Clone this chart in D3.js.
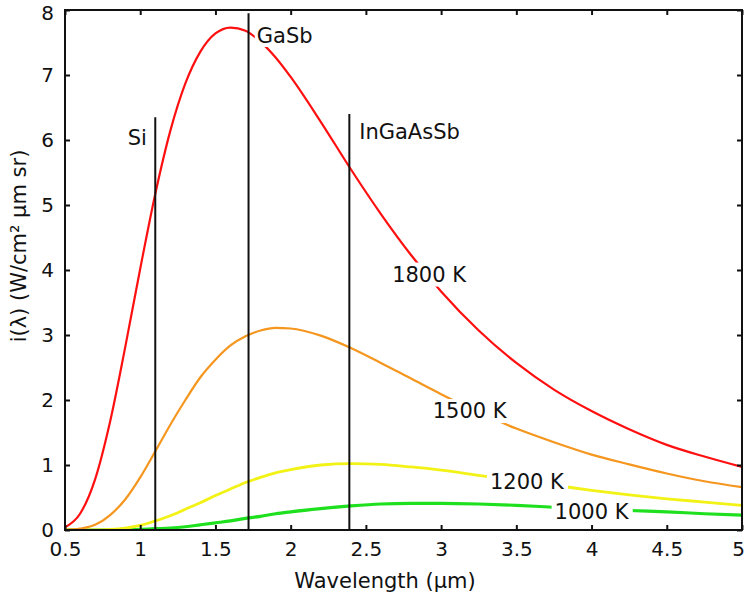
<!DOCTYPE html>
<html>
<head>
<meta charset="utf-8">
<script src="https://cdn.jsdelivr.net/npm/d3@7"></script>
<style>
  html, body { margin: 0; padding: 0; background: #fff; }
  svg { display: block; }
  text { font-family: "DejaVu Sans", Verdana, sans-serif; fill: #111; }
</style>
</head>
<body>
<svg id="chart" width="746" height="600"></svg>
<script>
// Spectral radiance of a blackbody at four temperatures, in W/(cm² µm sr)
const wavelengths = [0.5, 0.6, 0.7, 0.8, 0.9, 1.0, 1.1, 1.2, 1.3, 1.4, 1.5, 1.6, 1.7, 1.8, 1.9,
                     2.0, 2.2, 2.4, 2.6, 2.8, 3.0, 3.25, 3.5, 3.75, 4.0, 4.25, 4.5, 4.75, 5.0];

const radiance1800 = [0.04, 0.25, 0.78, 1.67, 2.81, 4.02, 5.17, 6.14, 6.87, 7.36, 7.64, 7.73, 7.68, 7.51, 7.27,
                      6.97, 6.28, 5.55, 4.86, 4.23, 3.67, 3.07, 2.57, 2.16, 1.83, 1.55, 1.31, 1.13, 0.97];
const radiance1500 = [0.00, 0.02, 0.08, 0.23, 0.47, 0.81, 1.21, 1.62, 2.00, 2.35, 2.62, 2.84, 2.98, 3.07, 3.11,
                      3.10, 2.99, 2.80, 2.57, 2.33, 2.09, 1.81, 1.56, 1.35, 1.16, 1.01, 0.87, 0.75, 0.66];
const radiance1200 = [0.00, 0.00, 0.00, 0.01, 0.03, 0.07, 0.14, 0.22, 0.32, 0.42, 0.53, 0.63, 0.73, 0.81, 0.88,
                      0.93, 1.00, 1.02, 1.01, 0.97, 0.92, 0.84, 0.76, 0.69, 0.61, 0.54, 0.48, 0.43, 0.38];
const radiance1000 = [0.00, 0.00, 0.00, 0.00, 0.00, 0.01, 0.02, 0.03, 0.05, 0.08, 0.11, 0.14, 0.18, 0.21, 0.25,
                      0.28, 0.33, 0.37, 0.40, 0.41, 0.41, 0.40, 0.38, 0.35, 0.33, 0.30, 0.28, 0.25, 0.23];

const seriesNames = ["1800 K", "1500 K", "1200 K", "1000 K"];

// Band-gap cut-off wavelengths (µm) of the photovoltaic cell materials
const materials = ["Si", "GaSb", "InGaAsSb"];
const cutoffs = [1.1, 1.72, 2.39];
const cutoffHeights = [6.35, 7.95, 6.4];

const xTicks = [0.5, 1, 1.5, 2, 2.5, 3, 3.5, 4, 4.5, 5];
const yTicks = [0, 1, 2, 3, 4, 5, 6, 7, 8];

// ---- layout & styles ----
const svg = d3.select("#chart");
const plot = { left: 65, right: 742, top: 10, bottom: 530 };
const x = d3.scaleLinear().domain([0.5, 5]).range([plot.left, plot.right]);
const y = d3.scaleLinear().domain([0, 8]).range([plot.bottom, plot.top]);

const seriesStyle = [
  { color: "#ff1010", width: 2.2 },
  { color: "#f5961e", width: 2.2 },
  { color: "#f2f216", width: 2.8 },
  { color: "#1ee01e", width: 3.2 }
];
// label anchors (data coords) for curves and cut-off markers
const seriesLabelAt = [[2.92, 3.93], [3.19, 1.83], [3.57, 0.74], [4.0, 0.28]];
const materialLabelAt = [[0.98, 6.03], [1.96, 7.6], [2.79, 6.13]];
const fontSize = 21;
const tickFontSize = 20;

const series = [radiance1800, radiance1500, radiance1200, radiance1000].map((vals, i) => ({
  name: seriesNames[i],
  points: wavelengths.map((w, j) => [w, vals[j]])
}));

const line = d3.line()
  .x(d => x(d[0]))
  .y(d => y(d[1]))
  .curve(d3.curveMonotoneX);

svg.append("defs").append("clipPath").attr("id", "plotclip")
  .append("rect")
  .attr("x", plot.left).attr("y", plot.top)
  .attr("width", plot.right - plot.left).attr("height", plot.bottom - plot.top);

const gPlot = svg.append("g").attr("clip-path", "url(#plotclip)");

// curves (coolest drawn first)
gPlot.selectAll("path.curve")
  .data(series.slice().reverse())
  .join("path")
  .attr("class", "curve")
  .attr("fill", "none")
  .attr("stroke", d => seriesStyle[seriesNames.indexOf(d.name)].color)
  .attr("stroke-width", d => seriesStyle[seriesNames.indexOf(d.name)].width)
  .attr("stroke-linejoin", "round")
  .attr("d", d => line(d.points));

// cut-off wavelength markers
gPlot.selectAll("line.cutoff")
  .data(cutoffs)
  .join("line")
  .attr("class", "cutoff")
  .attr("x1", d => x(d)).attr("x2", d => x(d))
  .attr("y1", y(0)).attr("y2", (d, i) => y(cutoffHeights[i]))
  .attr("stroke", "#111")
  .attr("stroke-width", 2);

// text label with a white backing that breaks the curve underneath
function boxedLabel(txt, cx, cy, padX, padY) {
  const g = svg.append("g");
  const rect = g.append("rect").attr("fill", "#fff");
  const t = g.append("text")
    .attr("x", cx).attr("y", cy)
    .attr("text-anchor", "middle")
    .attr("dominant-baseline", "central")
    .attr("font-size", fontSize)
    .text(txt);
  const bb = t.node().getBBox();
  rect.attr("x", bb.x - padX).attr("y", bb.y - padY + 2)
      .attr("width", bb.width + 2 * padX).attr("height", bb.height + 2 * padY - 4);
}

series.forEach((s, i) => {
  boxedLabel(s.name, x(seriesLabelAt[i][0]), y(seriesLabelAt[i][1]), 3, 2);
});
materials.forEach((m, i) => {
  boxedLabel(m, x(materialLabelAt[i][0]), y(materialLabelAt[i][1]), 2, 1);
});

// axes: ticks pointing inward on all four sides
const tickLen = 5;
const axisBottom = d3.axisBottom(x).tickValues(xTicks).tickSizeInner(-tickLen).tickSizeOuter(0)
  .tickPadding(12).tickFormat(d3.format("~g"));
const axisTop = d3.axisTop(x).tickValues(xTicks).tickSizeInner(-tickLen).tickSizeOuter(0).tickFormat("");
const axisLeft = d3.axisLeft(y).tickValues(yTicks).tickSizeInner(-tickLen).tickSizeOuter(0)
  .tickPadding(11).tickFormat(d3.format("d"));
const axisRight = d3.axisRight(y).tickValues(yTicks).tickSizeInner(-tickLen).tickSizeOuter(0).tickFormat("");

function styleAxis(g) {
  g.select(".domain").remove();
  g.selectAll(".tick line").attr("stroke", "#111").attr("stroke-width", 2);
  g.selectAll(".tick text").attr("font-size", tickFontSize).attr("fill", "#111")
    .style("font-family", "DejaVu Sans, sans-serif");
}

const gx = svg.append("g").attr("transform", `translate(0,${plot.bottom})`).call(axisBottom).call(styleAxis);
svg.append("g").attr("transform", `translate(0,${plot.top})`).call(axisTop).call(styleAxis);
const gy = svg.append("g").attr("transform", `translate(${plot.left},0)`).call(axisLeft).call(styleAxis);
svg.append("g").attr("transform", `translate(${plot.right},0)`).call(axisRight).call(styleAxis);

// keep the outermost tick labels inside the canvas
gx.selectAll(".tick text").filter(d => d === 5).attr("dx", -4);
gy.selectAll(".tick text").filter(d => d === 8).attr("dy", "0.45em");

// frame
svg.append("rect")
  .attr("x", plot.left).attr("y", plot.top)
  .attr("width", plot.right - plot.left).attr("height", plot.bottom - plot.top)
  .attr("fill", "none").attr("stroke", "#111").attr("stroke-width", 2);

// axis titles
svg.append("text")
  .attr("x", 385)
  .attr("y", 588)
  .attr("text-anchor", "middle")
  .attr("font-size", fontSize)
  .text("Wavelength (µm)");

svg.append("text")
  .attr("transform", "translate(26,246) rotate(-90)")
  .attr("text-anchor", "middle")
  .attr("font-size", fontSize)
  .text("i(λ)  (W/cm² µm sr)");
</script>
</body>
</html>
